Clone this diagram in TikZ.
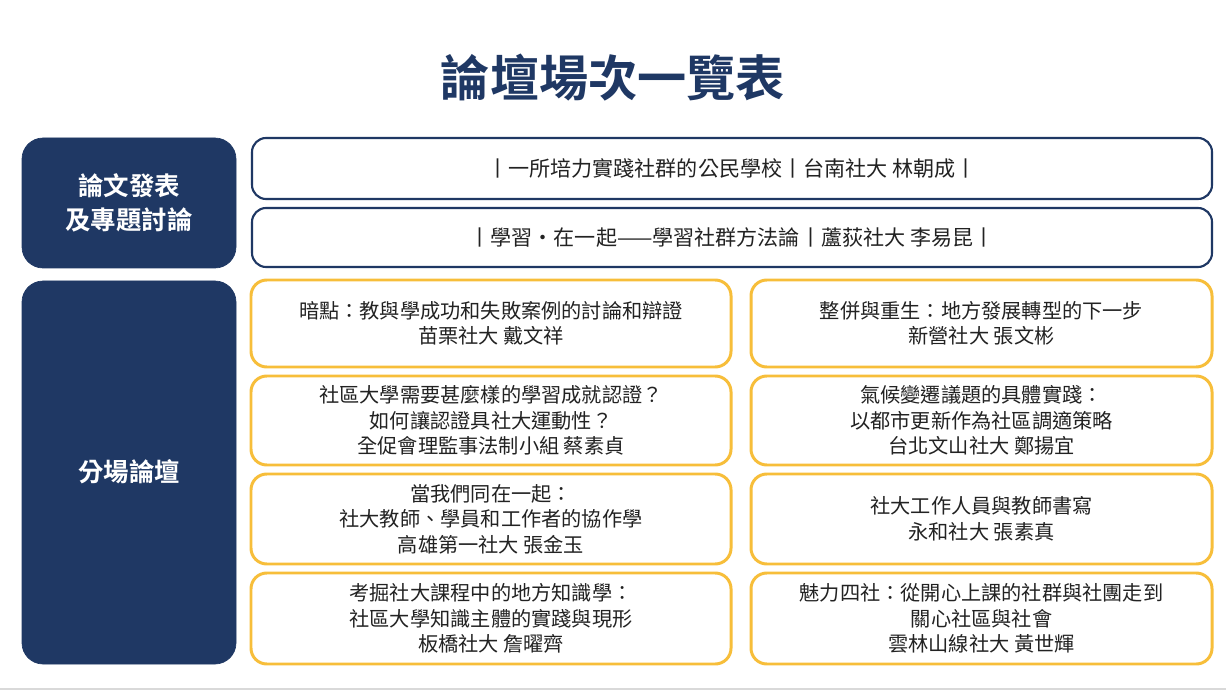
\documentclass[tikz,border=0pt]{standalone}
\usepackage{fontspec}
\setmainfont{Noto Sans CJK TC}
\newfontfamily\cjkb{Noto Sans CJK TC Bold}
\definecolor{navy}{HTML}{1F3864}
\definecolor{gold}{HTML}{F7BE3A}
\definecolor{txt}{HTML}{222222}
\begin{document}
\begin{tikzpicture}[x=0.02cm,y=-0.02cm,
  navybox/.style={fill=navy,draw=navy,rounded corners=12pt,text=white,font=\cjkb\fontsize{15}{20}\selectfont,align=center},
  topbox/.style={draw=navy,line width=1.2pt,fill=white,rounded corners=8pt,text=txt,font=\fontsize{12}{15}\selectfont},
  goldbox/.style={draw=gold,line width=1.7pt,fill=white,rounded corners=9pt,text=txt,font=\fontsize{11.5}{14.5}\selectfont,align=center}]
\useasboundingbox (0,0) rectangle (1226,692);
\fill[white] (0,0) rectangle (1226,692);
\draw[gray!30,line width=1pt] (0,689) -- (1226,689);
\node[text=navy,font=\cjkb\fontsize{28}{32}\selectfont] (title) at (613,78) {論壇場次一覽表};
\draw[navybox] (22,138) rectangle (236,268);
\node[text=white,font=\cjkb\fontsize{14.5}{19}\selectfont,align=center] (l1) at (129,203) {論文發表\\及專題討論};
\draw[navybox] (22,281) rectangle (236,664);
\node[text=white,font=\cjkb\fontsize{14.5}{19}\selectfont] (l2) at (129,472) {分場論壇};
\draw[topbox] (252,138) rectangle (1212,199);
\node[text=txt,font=\fontsize{12}{15}\selectfont] (t1) at (732,168) {丨一所培力實踐社群的公民學校丨台南社大 林朝成丨};
\draw[topbox] (252,208) rectangle (1212,267);
\node[text=txt,font=\fontsize{12}{15}\selectfont] (t2) at (732,238) {丨學習・在一起——學習社群方法論丨蘆荻社大 李易昆丨};
\def\gb#1#2#3#4#5{\draw[goldbox] (#1,#2) rectangle (#3,#4);
  \node[text=txt,font=\fontsize{11.5}{14.5}\selectfont,align=center] at ({(#1+#3)/2},{(#2+#4)/2}) {#5};}
\gb{251}{280}{731}{367}{暗點：教與學成功和失敗案例的討論和辯證\\苗栗社大 戴文祥}
\gb{751}{280}{1212}{367}{整併與重生：地方發展轉型的下一步\\新營社大 張文彬}
\gb{251}{376}{731}{465}{社區大學需要甚麼樣的學習成就認證？\\如何讓認證具社大運動性？\\全促會理監事法制小組 蔡素貞}
\gb{751}{376}{1212}{465}{氣候變遷議題的具體實踐：\\以都市更新作為社區調適策略\\台北文山社大 鄭揚宜}
\gb{251}{474}{731}{564}{當我們同在一起：\\社大教師、學員和工作者的協作學\\高雄第一社大 張金玉}
\gb{751}{474}{1212}{564}{社大工作人員與教師書寫\\永和社大 張素真}
\gb{251}{573}{731}{664}{考掘社大課程中的地方知識學：\\社區大學知識主體的實踐與現形\\板橋社大 詹曜齊}
\gb{751}{573}{1212}{664}{魅力四社：從開心上課的社群與社團走到\\關心社區與社會\\雲林山線社大 黃世輝}
\end{tikzpicture}
\end{document}
